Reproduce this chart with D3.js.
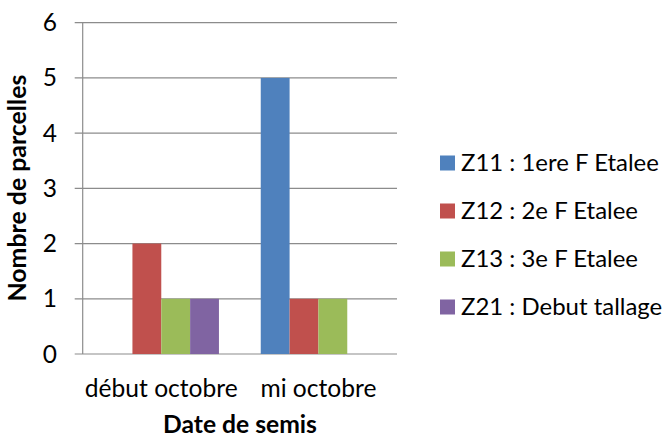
<!DOCTYPE html>
<html><head><meta charset="utf-8">
<script src="https://cdn.jsdelivr.net/npm/d3@7"></script>
<style>body{margin:0;background:#fff}text{font-family:Lato,"Open Sans",sans-serif;fill:#000}</style>
</head><body><svg id="c" width="666" height="438"></svg>
<script>
const categories = ["début octobre", "mi octobre"];
const seriesNames = ["Z11 : 1ere F Etalee", "Z12 : 2e F Etalee", "Z13 : 3e F Etalee", "Z21 : Debut tallage"];
const seriesColors = ["#4f81bd", "#c0504d", "#9bbb59", "#8064a2"];
const z11 = [0, 5];
const z12 = [2, 1];
const z13 = [1, 1];
const z21 = [1, 0];
const yTicks = [0, 1, 2, 3, 4, 5, 6];
const seriesValues = [z11, z12, z13, z21];

const svg = d3.select("#c");
const L = 82.7, R = 397, T = 22.7, B = 354;
const x0 = d3.scaleBand().domain(categories).range([L, R]).paddingInner(0.266).paddingOuter(0.133);
const x1 = d3.scaleBand().domain(d3.range(seriesNames.length)).range([0, x0.bandwidth()]);
const y = d3.scaleLinear().domain([0, 6]).range([B, T]);

function fit(sel, refText, target) {
  sel.attr("font-size", 20);
  const n = sel.filter(d => d === refText).node() || sel.node();
  const w = n.getComputedTextLength();
  sel.attr("font-size", 20 * target / w);
}

// gridlines
svg.append("g").selectAll("line").data(yTicks).join("line")
  .attr("x1", L - 8).attr("x2", R).attr("y1", d => y(d)).attr("y2", d => y(d))
  .attr("stroke", "#8c8c8c").attr("stroke-width", 1.2);
svg.append("line").attr("x1", L).attr("x2", L).attr("y1", T).attr("y2", B)
  .attr("stroke", "#8c8c8c").attr("stroke-width", 1.2);

// bars
categories.forEach((c, ci) => {
  svg.append("g").selectAll("rect").data(seriesValues.map((s, si) => ({si, v: s[ci]}))).join("rect")
    .attr("x", d => x0(c) + x1(d.si)).attr("width", x1.bandwidth())
    .attr("y", d => y(d.v)).attr("height", d => y(0) - y(d.v))
    .attr("fill", d => seriesColors[d.si]);
});

// y tick labels
svg.append("g").selectAll("text").data(yTicks).join("text")
  .attr("x", 57).attr("y", d => y(d) + 8.5).attr("text-anchor", "end")
  .attr("font-size", 24.5).text(d => d);

// x labels
const xl = svg.append("g").selectAll("text").data(categories).join("text")
  .attr("x", d => x0(d) + x0.bandwidth() / 2).attr("y", 397).attr("text-anchor", "middle")
  .text(d => d);
fit(xl, "début octobre", 153);

const xt = svg.append("text").datum("Date de semis").attr("x", 240).attr("y", 433).attr("text-anchor", "middle")
  .attr("font-weight", "bold").text(d => d);
fit(xt, "Date de semis", 154);
const yt = svg.append("text").datum("Nombre de parcelles").attr("transform", "translate(26,188) rotate(-90)").attr("text-anchor", "middle")
  .attr("font-weight", "bold").text(d => d);
fit(yt, "Nombre de parcelles", 227);

// legend
const lg = svg.append("g").selectAll("g").data(seriesNames).join("g")
  .attr("transform", (d, i) => `translate(440,${163 + i * 48})`);
lg.append("rect").attr("x", 0).attr("y", -7.5).attr("width", 15).attr("height", 15).attr("fill", (d, i) => seriesColors[i]);
const lt = lg.append("text").attr("x", 21).attr("y", 7.5).text(d => d);
fit(lt, "Z11 : 1ere F Etalee", 198);
</script></body></html>
